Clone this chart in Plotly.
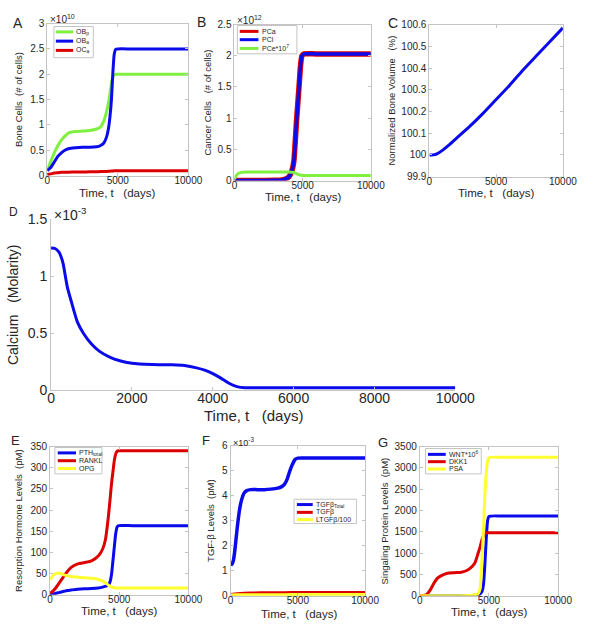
import plotly.graph_objects as go

# ---------------- DATA ----------------
# Panel A: bone cells (x1e10)
t_A = [0, 250, 500, 750, 1000, 1250, 1500, 2000, 2500, 3000, 3500, 3750, 4000, 4200, 4350, 4450, 4550, 4650, 4750, 4850, 5000, 6000, 8000, 10000]
ob_p = [0.10, 0.28, 0.45, 0.59, 0.70, 0.78, 0.84, 0.87, 0.88, 0.89, 0.92, 0.95, 1.07, 1.26, 1.45, 1.62, 1.82, 1.95, 1.99, 2.0, 2.0, 2.0, 2.0, 2.0]
ob_a = [0.10, 0.16, 0.27, 0.38, 0.45, 0.50, 0.53, 0.55, 0.56, 0.56, 0.57, 0.59, 0.64, 0.76, 0.95, 1.18, 1.50, 2.03, 2.40, 2.49, 2.5, 2.5, 2.5, 2.5]
oc_a = [0.02, 0.035, 0.05, 0.058, 0.065, 0.067, 0.069, 0.07, 0.072, 0.075, 0.078, 0.079, 0.08, 0.082, 0.085, 0.087, 0.09, 0.092, 0.094, 0.095, 0.095, 0.095, 0.095, 0.095]

# Panel B: cancer cells (x1e12)
t_B = [0, 1000, 2000, 3000, 3500, 3800, 4000, 4200, 4350, 4450, 4550, 4650, 4750, 4850, 4950, 5100, 6000, 10000]
pc_a = [0, 0, 0.001, 0.003, 0.01, 0.03, 0.06, 0.15, 0.30, 0.60, 0.95, 1.25, 1.55, 1.85, 2.0, 2.03, 2.03, 2.03]
pc_l = [0, 0, 0.001, 0.003, 0.01, 0.03, 0.06, 0.15, 0.30, 0.60, 0.95, 1.25, 1.55, 1.85, 2.0, 2.03, 2.03, 2.03]
t_Be = [0, 100, 250, 500, 1000, 2000, 3000, 4000, 4300, 4500, 4700, 4900, 5200, 6000, 10000]
pc_e = [0.02, 0.07, 0.11, 0.13, 0.135, 0.135, 0.135, 0.135, 0.13, 0.115, 0.095, 0.085, 0.08, 0.08, 0.08]

# Panel C: normalized bone volume (%)
t_C = [0, 300, 600, 1000, 1500, 2000, 3000, 4000, 5000, 6000, 7000, 8000, 9000, 10000]
bv = [100.0, 100.0, 100.006, 100.022, 100.047, 100.075, 100.13, 100.19, 100.255, 100.32, 100.39, 100.455, 100.52, 100.585]

# Panel D: calcium (x1e-3 M)
t_D = [0, 100, 200, 250, 300, 400, 500, 650, 800, 1000, 1200, 1450, 1700, 2000, 2500, 3000, 3300, 3600, 3800, 4000, 4200, 4400, 4600, 4800, 5000, 6000, 8000, 10000]
ca = [1.25, 1.245, 1.21, 1.17, 1.11, 0.91, 0.78, 0.60, 0.50, 0.405, 0.34, 0.29, 0.258, 0.236, 0.225, 0.222, 0.215, 0.195, 0.175, 0.145, 0.105, 0.06, 0.03, 0.02, 0.02, 0.02, 0.02, 0.02]

# Panel E: resorption hormones (pM)
t_E = [0, 250, 500, 750, 1000, 1250, 1500, 2000, 2500, 3000, 3500, 3800, 4000, 4200, 4350, 4450, 4550, 4650, 4750, 4850, 4950, 6000, 10000]
pth = [0, 2, 4, 6, 8, 10, 11, 13, 14, 14.5, 16, 18, 20, 22, 32, 50, 82, 115, 145, 160, 163, 163, 163]
rankl = [3, 10, 20, 32, 44, 55, 64, 73, 76, 80, 92, 108, 130, 180, 230, 265, 292, 318, 333, 339, 340, 340, 340]
opg = [36, 46, 51, 50, 47, 45, 43, 41.5, 40, 39, 36, 32, 28, 23, 19.5, 18, 17, 16.5, 16, 16, 16, 16, 16]

# Panel F: TGF-beta (x1e-3 pM)
t_F = [0, 100, 200, 300, 400, 500, 600, 700, 800, 1000, 1200, 1500, 2000, 2500, 3000, 3500, 3800, 4000, 4200, 4400, 4600, 4800, 5000, 6000, 10000]
tgf_total = [1.3, 1.25, 1.4, 1.75, 2.25, 2.75, 3.2, 3.55, 3.8, 4.1, 4.2, 4.24, 4.24, 4.24, 4.26, 4.3, 4.36, 4.45, 4.65, 4.98, 5.25, 5.45, 5.5, 5.5, 5.5]
t_Fs = [0, 500, 1000, 1500, 3000, 4000, 5000, 10000]
tgf = [0.05, 0.08, 0.10, 0.11, 0.115, 0.12, 0.13, 0.13]
ltgf = [0.03, 0.035, 0.04, 0.04, 0.04, 0.04, 0.045, 0.045]

# Panel G: signaling proteins (pM)
t_G = [0, 250, 500, 750, 1000, 1250, 1500, 2000, 2500, 3000, 3500, 3800, 4000, 4200, 4350, 4500, 4600, 4700, 4800, 4900, 5000, 6000, 10000]
wnt = [0, 0, 0, 0, 0, 0, 0, 0, 0, 0, 2, 5, 10, 20, 40, 100, 250, 700, 1300, 1750, 1860, 1870, 1870]
dkk1 = [0, 5, 30, 130, 280, 400, 460, 525, 540, 550, 610, 690, 780, 980, 1130, 1320, 1400, 1460, 1478, 1480, 1480, 1480, 1480]
psa = [0, 0, 0, 0, 0, 0, 0, 0, 0, 0, 3, 10, 25, 40, 150, 900, 1500, 2300, 2850, 3150, 3240, 3250, 3250]

# tick labels
ticks_small = [0, 5000, 10000]
ticks_small_txt = ["0", "5000", "10000"]
ticks_D = [0, 2000, 4000, 6000, 8000, 10000]
ticks_D_txt = ["0", "2000", "4000", "6000", "8000", "10000"]

# ---------------- STYLE ----------------
W, H = 604, 630
FONT = "Liberation Sans, Arial, Helvetica, sans-serif"
TXT = "#262626"
GRAY = "#c4c4c4"
GREEN = "#80f040"
BLUE = "#0a0aeb"
RED = "#dd0000"
YELLOW = "#ffff30"
XTITLE = "Time, t&nbsp;&nbsp;&nbsp;(days)"

def dx(a, b):
    return [a / W, b / W]

def dy(top, bottom):
    return [1 - bottom / H, 1 - top / H]

fig = go.Figure()

def add(x, y, color, name, ax, width=3):
    fig.add_trace(go.Scatter(
        x=x, y=y, mode="lines", name=name,
        line=dict(color=color, width=width, shape="spline", smoothing=0.6),
        xaxis="x" + ax, yaxis="y" + ax, showlegend=False,
    ))

add(t_A, ob_p, GREEN, "OBp", "")
add(t_A, ob_a, BLUE, "OBa", "")
add(t_A, oc_a, RED, "OCa", "")

add(t_B, pc_a, RED, "PCa", "2", width=5.5)
add(t_B, pc_l, BLUE, "PCl", "2", width=3.5)
add(t_Be, pc_e, GREEN, "PCe*10^7", "2")

add(t_C, bv, BLUE, "BV", "3")

add(t_D, ca, BLUE, "Ca", "4")

add(t_E, pth, BLUE, "PTHtotal", "5")
add(t_E, rankl, RED, "RANKL", "5")
add(t_E, opg, YELLOW, "OPG", "5")

add(t_F, tgf_total, BLUE, "TGFbTotal", "6", width=3.5)
add(t_Fs, tgf, RED, "TGFb", "6")
add(t_Fs, ltgf, YELLOW, "LTGFb/100", "6")

add(t_G, wnt, BLUE, "WNT*10^6", "7")
add(t_G, dkk1, RED, "DKK1", "7")
add(t_G, psa, YELLOW, "PSA", "7")

def xax(dom, anchor, tickvals, ticktext, size=10, lst=-5):
    return dict(domain=dom, anchor=anchor, range=[0, 10000], tickvals=tickvals, ticktext=ticktext,
                showline=True, linecolor=GRAY, linewidth=1, mirror="ticks",
                ticks="inside", ticklen=3, tickcolor=GRAY, showgrid=False, zeroline=False,
                ticklabelstandoff=lst,
                tickfont=dict(family=FONT, size=size, color=TXT))

def yax(dom, anchor, rng, dtick, title, size=10, tsize=9.5, standoff=5):
    return dict(domain=dom, anchor=anchor, range=rng, dtick=dtick, tick0=rng[0],
                showline=True, linecolor=GRAY, linewidth=1, mirror="ticks",
                ticks="inside", ticklen=3, tickcolor=GRAY, showgrid=False, zeroline=False,
                tickfont=dict(family=FONT, size=size, color=TXT),
                title=dict(text=title, font=dict(family=FONT, size=tsize, color=TXT), standoff=standoff))

layout = dict(
    width=W, height=H, margin=dict(l=0, r=0, t=0, b=0),
    paper_bgcolor="white", plot_bgcolor="white", showlegend=False,
    font=dict(family=FONT, color=TXT),
    xaxis=xax(dx(45, 192), "y", ticks_small, ticks_small_txt),
    yaxis=yax(dy(16, 172), "x", [0, 3], 0.5, "Bone Cells&nbsp;&nbsp;(# of cells)", standoff=5),
    xaxis2=xax(dx(240, 382), "y2", ticks_small, ticks_small_txt),
    yaxis2=yax(dy(17, 177), "x2", [0, 2.5], 0.5, "Cancer Cells&nbsp;&nbsp;&nbsp;(# of cells)", standoff=4),
    xaxis3=xax(dx(443, 582), "y3", ticks_small, ticks_small_txt),
    yaxis3=yax(dy(17, 173), "x3", [99.9, 100.6], 0.1, "Normalized Bone Volume&nbsp;&nbsp;&nbsp;(%)", standoff=4),
    xaxis4=xax(dx(49, 470), "y4", ticks_D, ticks_D_txt, size=14, lst=-5),
    yaxis4=yax(dy(217, 392), "x4", [0, 1.5], 0.5, "Calcium&nbsp;&nbsp;&nbsp;(Molarity)", size=14, tsize=14, standoff=5),
    xaxis5=xax(dx(48, 192), "y5", ticks_small, ticks_small_txt),
    yaxis5=yax(dy(450, 602), "x5", [0, 350], 50, "Resorption Hormone Levels&nbsp;&nbsp;(pM)", standoff=6),
    xaxis6=xax(dx(236, 376), "y6", ticks_small, ticks_small_txt),
    yaxis6=yax(dy(449, 603), "x6", [0, 6], 1, "TGF-β Levels&nbsp;&nbsp;(pM)", standoff=5),
    xaxis7=xax(dx(433, 577), "y7", ticks_small, ticks_small_txt),
    yaxis7=yax(dy(450, 603), "x7", [0, 3500], 500, "Singaling Protein Levels&nbsp;&nbsp;(pM)", standoff=4),
)
layout["xaxis4"]["mirror"] = False
layout["yaxis4"]["mirror"] = False

ann = []
shapes = []

def note(text, x, y, size, xanchor="left"):
    ann.append(dict(text=text, x=x / W, y=1 - y / H, xref="paper", yref="paper",
                    xanchor=xanchor, yanchor="middle", showarrow=False,
                    font=dict(family=FONT, size=size, color=TXT)))

def legend_box(box, entries, line_x0, line_x1, text_x, size=7):
    l, t, r, b = box
    shapes.append(dict(type="rect", xref="paper", yref="paper",
                       x0=l / W, x1=r / W, y0=1 - b / H, y1=1 - t / H,
                       line=dict(color=GRAY, width=1), fillcolor="white", layer="above"))
    for label, color, y in entries:
        shapes.append(dict(type="line", xref="paper", yref="paper",
                           x0=line_x0 / W, x1=line_x1 / W, y0=1 - y / H, y1=1 - y / H,
                           line=dict(color=color, width=3), layer="above"))
        note(label, text_x, y, size)

legend_box((52, 19, 93, 51), [("OB<sub>p</sub>", GREEN, 24.5), ("OB<sub>a</sub>", BLUE, 34), ("OC<sub>a</sub>", RED, 43.5)], 54, 72, 73)
legend_box((243, 18, 305, 47), [("PCa", RED, 24), ("PCl", BLUE, 32.5), ("PCe*10<sup>7</sup>", GREEN, 41.5)], 245.5, 265, 266.5)
legend_box((53, 451, 102, 478), [("PTH<sub>total</sub>", BLUE, 456.5), ("RANKL", RED, 464.5), ("OPG", YELLOW, 472.5)], 56, 75, 76.5)
legend_box((302, 504, 367, 529), [("TGFβ<sub>Total</sub>", BLUE, 509.5), ("TGFβ", RED, 517.5), ("LTGFβ/100", YELLOW, 525)], 305, 321.5, 323)
legend_box((439, 452, 497, 478), [("WNT*10<sup>6</sup>", BLUE, 458), ("DKK1", RED, 465.5), ("PSA", YELLOW, 473)], 441.5, 460, 461.5)

# x-axis titles
note(XTITLE, 118, 190, 11.5, "center")
note(XTITLE, 311, 194, 11.5, "center")
note(XTITLE, 512, 190, 11.5, "center")
note(XTITLE, 259.5, 418, 15, "center")
note(XTITLE, 120, 619, 11.5, "center")
note(XTITLE, 307, 622, 11.5, "center")
note(XTITLE, 505, 620, 11.5, "center")

# panel letters
note("A", 15, 15, 14, "center")
note("B", 206, 14, 14, "center")
note("C", 405, 15, 14, "center")
note("D", 10, 209, 12, "center")
note("E", 12, 444, 13, "center")
note("F", 210, 444, 13, "center")
note("G", 395, 446, 13, "center")
# exponent labels
note("×10<sup>10</sup>", 46, 11, 10)
note("×10<sup>12</sup>", 241, 12, 10)
note("×10<sup>-3</sup>", 50, 211, 14)
note("×10<sup>-3</sup>", 236, 445, 9)

layout["annotations"] = ann
layout["shapes"] = shapes

fig.update_layout(**layout)
fig.write_html("out.html", config={"displayModeBar": False},
               post_script="document.body.style.margin='0px';")
